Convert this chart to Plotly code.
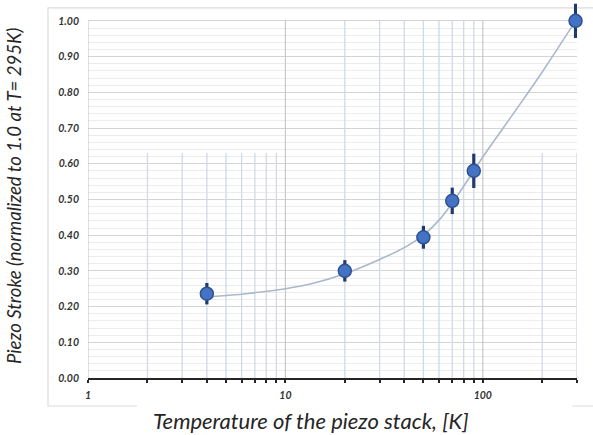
import plotly.graph_objects as go

# Measured points
temps = [4, 20, 50, 70, 90, 295]
stroke = [0.236, 0.300, 0.394, 0.496, 0.580, 1.000]
stroke_err = [0.030, 0.030, 0.032, 0.037, 0.048, 0.048]

# Trend curve
trend_t = [4.3, 6.3, 10, 14, 20, 30, 40, 50, 60, 70, 90, 100, 150, 200, 295]
trend_y = [0.228, 0.236, 0.250, 0.266, 0.292, 0.332, 0.365, 0.400, 0.442, 0.490, 0.580, 0.619, 0.757, 0.857, 1.000]

x_major = [1, 10, 100]
x_major_text = ["1", "10", "100"]
y_tick_vals = [0.0, 0.1, 0.2, 0.3, 0.4, 0.5, 0.6, 0.7, 0.8, 0.9, 1.0]
y_tick_text = ["0.00", "0.10", "0.20", "0.30", "0.40", "0.50", "0.60", "0.70", "0.80", "0.90", "1.00"]

x_title = "Temperature of the piezo stack, [K]"
y_title = "Piezo Stroke (normalized to 1.0 at T= 295K)"

FONT = "Lato"
X_MAX = 300

# tick positions: every digit of every decade
tick_vals, tick_text = [], []
for dec in x_major:
    for m in range(1, 10):
        v = dec * m
        if v <= X_MAX:
            tick_vals.append(v)
            tick_text.append(x_major_text[x_major.index(dec)] if m == 1 else "")

# minor horizontal grid every 0.02 up to 1.0
y_minor = [round(i * 0.02, 2) for i in range(1, 50) if i % 5 != 0]

fig = go.Figure()

# minor vertical gridlines (helper trace)
gx, gy = [], []
for dec in x_major:
    for m in range(2, 10):
        v = dec * m
        if v > X_MAX:
            continue
        top = 1.0 if dec == 10 else 0.63
        gx += [v, v, None]
        gy += [0, top, None]
fig.add_trace(go.Scatter(x=gx, y=gy, mode="lines",
                         line=dict(color="#d0d9e8", width=1.3),
                         hoverinfo="skip", showlegend=False))
# major vertical gridlines
mx, my = [], []
for v in x_major:
    mx += [v, v, None]
    my += [0, 1, None]
fig.add_trace(go.Scatter(x=mx, y=my, mode="lines",
                         line=dict(color="#c8c8c8", width=1.2),
                         hoverinfo="skip", showlegend=False))

fig.add_trace(go.Scatter(x=trend_t, y=trend_y, mode="lines",
                         line=dict(color="#aab8cc", width=1.6, shape="spline", smoothing=1.0),
                         hoverinfo="skip", showlegend=False))

fig.add_trace(go.Scatter(
    x=temps, y=stroke, mode="markers",
    marker=dict(size=13, color="#4472c4", line=dict(color="#2f528f", width=1.5)),
    error_y=dict(type="data", array=stroke_err, visible=True,
                 color="#1f3a6e", thickness=3.2, width=0),
    cliponaxis=False, showlegend=False))

fig.update_xaxes(
    type="log", range=[0, 2.4771],
    tickvals=tick_vals, ticktext=tick_text,
    showgrid=False,
    showline=True, linecolor="#262626", linewidth=2,
    ticks="outside", ticklen=3, tickwidth=1.5, tickcolor="#262626",
    tickfont=dict(family=FONT, size=10.5, color="#333333", style="italic", weight="bold"),
    zeroline=False, ticklabelstandoff=3,
)
fig.update_yaxes(
    range=[0, 1.05],
    tickvals=y_tick_vals, ticktext=y_tick_text,
    showgrid=True, gridcolor="#d4d4d4", gridwidth=1,
    minor=dict(tickvals=y_minor, showgrid=True, gridcolor="#ececec", gridwidth=1),
    showline=False, zeroline=False,
    ticks="", ticklabelstandoff=8,
    tickfont=dict(family=FONT, size=10.5, color="#333333", style="italic", weight="bold"),
)

# chart-area frame and white box behind x title
PH = 357 * 1.05  # plot-area height in px
fig.add_shape(type="rect", xref="paper", yref="paper",
              x0=-0.0818, x1=1.06, y0=-28 / PH, y1=(378 - 8) / PH,
              line=dict(color="#dcdcdc", width=1.2), fillcolor="rgba(0,0,0,0)",
              layer="below")
fig.add_shape(type="rect", xref="paper", yref="paper",
              x0=0.1, x1=0.99, y0=-22 / PH, y1=-64 / PH,
              line=dict(width=0), fillcolor="white", layer="above")

fig.add_annotation(text=x_title, xref="paper", yref="paper",
                   x=0.456, y=-42 / PH, xanchor="center", yanchor="middle",
                   showarrow=False,
                   font=dict(family=FONT, size=22, color="#262626", style="italic"))
fig.add_annotation(text=y_title, xref="paper", yref="paper",
                   x=-0.151, y=(378 - 196) / PH, xanchor="center", yanchor="middle",
                   textangle=-90, showarrow=False,
                   font=dict(family=FONT, size=18.6, color="#262626", style="italic"))

fig.update_layout(
    width=593, height=435,
    margin=dict(l=88, r=16, t=3, b=57),
    paper_bgcolor="white", plot_bgcolor="white",
    showlegend=False,
)

fig.write_html("out.html", config={"displayModeBar": False},
               post_script="document.body.style.margin='0';")
